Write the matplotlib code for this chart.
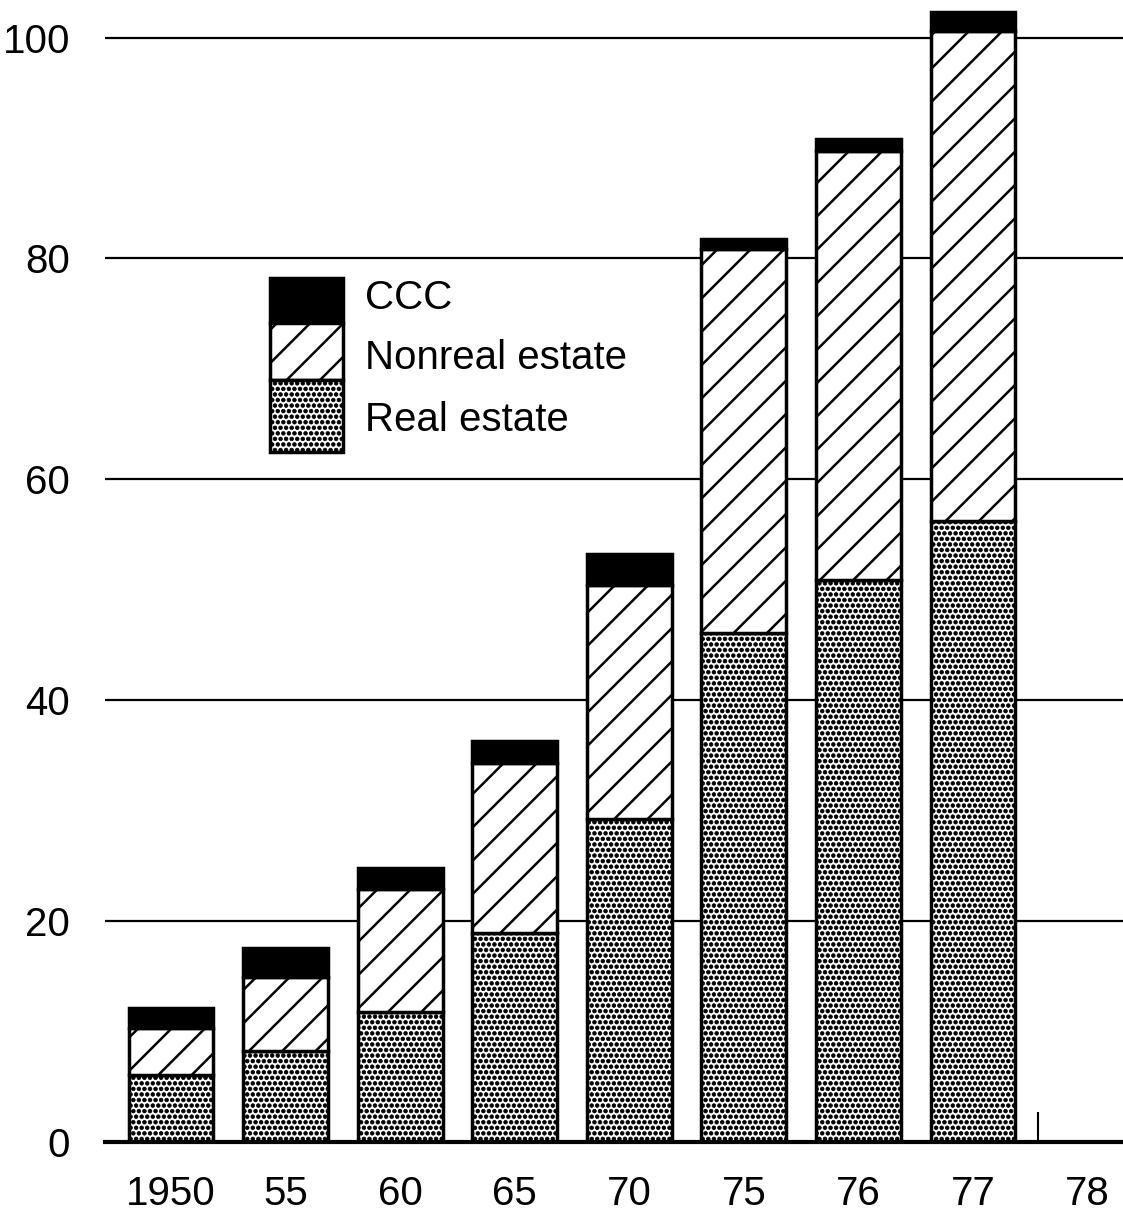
import matplotlib
matplotlib.use("Agg")
import matplotlib.pyplot as plt
import matplotlib.hatch as mhatch
from matplotlib.patches import Rectangle
import numpy as np

plt.rcParams['font.family'] = ['Liberation Sans', 'DejaVu Sans']
plt.rcParams['hatch.linewidth'] = 1.5
# larger solid dots for the '.' hatch (radius as fraction of dot spacing)
mhatch.SmallFilledCircles.size = 0.33

categories = ["1950", "55", "60", "65", "70", "75", "76", "77", "78"]
real_estate = [6.1, 8.2, 11.8, 18.9, 29.2, 46.1, 50.9, 56.2, 0]
nonreal_estate = [4.2, 6.7, 11.1, 15.4, 21.2, 34.8, 38.8, 44.4, 0]
ccc = [1.8, 2.7, 1.9, 2.0, 2.8, 0.9, 1.1, 1.7, 0]
series_labels = ["CCC", "Nonreal estate", "Real estate"]
yticks = [0, 20, 40, 60, 80, 100]

DOT_LW = 0.5
LINE_LW = 1.8


def set_hlw(patches, lw):
    for p in patches:
        if hasattr(p, "set_hatch_linewidth"):
            p.set_hatch_linewidth(lw)
        else:
            p._hatch_linewidth = lw


fig = plt.figure(figsize=(11.23, 12.22), dpi=100)
ax = fig.add_axes([0.0935, 0.06547, 0.9065, 0.93453])

x = np.arange(len(categories))
w = 0.74
re = np.array(real_estate)
nre = np.array(nonreal_estate)
cc = np.array(ccc)
has = (re + nre + cc) > 0

with plt.rc_context({'hatch.linewidth': DOT_LW}):
    b1 = ax.bar(x[has], re[has], width=w, color='white', edgecolor='black',
                linewidth=2.5, hatch='...', zorder=3)
set_hlw(b1, DOT_LW)
with plt.rc_context({'hatch.linewidth': LINE_LW}):
    b2 = ax.bar(x[has], nre[has], bottom=re[has], width=w, color='white',
                edgecolor='black', linewidth=2.5, hatch='/', zorder=3)
set_hlw(b2, LINE_LW)
ax.bar(x[has], cc[has], bottom=(re + nre)[has], width=w, color='black',
       edgecolor='black', linewidth=2.5, zorder=3)

ax.set_xlim(-0.576, 8.31)
ax.set_ylim(0, 103.4)
ax.set_yticks(yticks)
ax.set_yticklabels([str(t) for t in yticks])
ax.set_xticks(x)
ax.set_xticklabels(categories)
ax.tick_params(axis='both', length=0, labelsize=29)
ax.tick_params(axis='y', pad=25)
ax.tick_params(axis='x', pad=24)
for s in ['top', 'right', 'left']:
    ax.spines[s].set_visible(False)
ax.spines['bottom'].set_linewidth(3)
ax.spines['bottom'].set_zorder(4)

for t in yticks[1:]:
    ax.axhline(t, color='black', linewidth=1.6, zorder=1)

# small stray tick near 78
ax.vlines(7.57, 0, 2.7, color='black', linewidth=1.5, zorder=4)

# legend drawn as stacked swatches
lx, lw = 0.162, 0.0717
swatches = [
    (0.7172, 0.7566, 'black', None, LINE_LW),
    (0.6673, 0.7172, 'white', '/', LINE_LW),
    (0.6042, 0.6673, 'white', '...', DOT_LW),
]
for (y0, y1, fc, h, hlw) in swatches:
    with plt.rc_context({'hatch.linewidth': hlw}):
        r = Rectangle((lx, y0), lw, y1 - y0, transform=ax.transAxes,
                      facecolor=fc, hatch=h, edgecolor='black',
                      linewidth=2.5, zorder=5)
    set_hlw([r], hlw)
    ax.add_patch(r)
text_y = [0.739, 0.6865, 0.632]
for lbl, ty in zip(series_labels, text_y):
    ax.text(0.2554, ty, lbl, transform=ax.transAxes, fontsize=29,
            va='center', ha='left', zorder=5)

fig.savefig("out.png", dpi=100, facecolor='white')
